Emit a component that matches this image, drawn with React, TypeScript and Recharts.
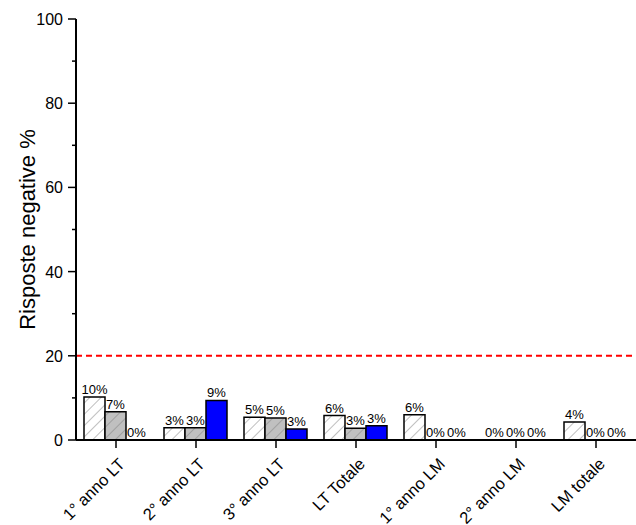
import React from "react"
import {
  BarChart,
  Bar,
  XAxis,
  YAxis,
  ReferenceLine,
  LabelList,
} from "recharts"

const categories = [
  "1° anno LT",
  "2° anno LT",
  "3° anno LT",
  "LT Totale",
  "1° anno LM",
  "2° anno LM",
  "LM totale",
]
const serieA = [10.2, 2.9, 5.4, 5.8, 6.0, 0, 4.3]
const serieB = [6.7, 2.9, 5.2, 2.8, 0, 0, 0]
const serieC = [0, 9.4, 2.6, 3.4, 0, 0, 0]
const yTicks = [0, 10, 20, 30, 40, 50, 60, 70, 80, 90, 100]
const soglia = 20

const data = categories.map((name, i) => ({
  name,
  a: serieA[i],
  b: serieB[i],
  c: serieC[i],
}))

const FONT = "Arial, 'Liberation Sans', sans-serif"

// etichetta sopra la barra, anche per i valori a zero
function BarLabel(props: any) {
  const { x, y, width, value } = props
  if (value == null) return null
  return (
    <text
      x={Number(x) + Number(width) / 2}
      y={Number(y) - 3}
      textAnchor="middle"
      fontSize={13}
      fontFamily={FONT}
      fill="#000"
    >
      {`${Math.round(Number(value))}%`}
    </text>
  )
}

function YTick(props: any) {
  const { x, y, payload } = props
  const major = payload.value % 20 === 0
  return (
    <g>
      <line x1={x - (major ? 8 : 4)} x2={x} y1={y} y2={y} stroke="#000" strokeWidth={1.5} />
      {major && (
        <text x={x - 13} y={y} dy={6} textAnchor="end" fontSize={16} fontFamily={FONT} fill="#000">
          {payload.value}
        </text>
      )}
    </g>
  )
}

function XTick(props: any) {
  const { x, y, payload } = props
  const tx = x + 10
  const ty = y + 25
  return (
    <g>
      <line x1={x} x2={x} y1={y} y2={y + 8} stroke="#000" strokeWidth={1.5} />
      <text
        x={tx}
        y={ty}
        textAnchor="end"
        fontSize={16.5}
        fontFamily={FONT}
        fill="#000"
        transform={`rotate(-45, ${tx}, ${ty})`}
      >
        {payload.value}
      </text>
    </g>
  )
}

export default function App() {
  return (
    <div style={{ background: "#fff", width: 636, height: 525 }}>
      <style>{`body{margin:0;background:#fff}`}</style>
      <BarChart
        width={636}
        height={525}
        data={data}
        margin={{ top: 19, right: 0, left: 0, bottom: 0 }}
        barCategoryGap={8}
        barGap={0}
      >
        <defs>
          <pattern id="hatchWhite" width="8" height="8" patternUnits="userSpaceOnUse" patternTransform="rotate(45)">
            <rect width="8" height="8" fill="#fff" />
            <line x1="0" y1="0" x2="0" y2="8" stroke="#808080" strokeWidth={1} />
          </pattern>
          <pattern id="hatchGray" width="8" height="8" patternUnits="userSpaceOnUse" patternTransform="rotate(45)">
            <rect width="8" height="8" fill="#c0c0c0" />
            <line x1="0" y1="0" x2="0" y2="8" stroke="#808080" strokeWidth={1} />
          </pattern>
        </defs>
        <XAxis
          dataKey="name"
          height={85}
          interval={0}
          tick={<XTick />}
          tickSize={0}
          tickMargin={0}
          tickLine={false}
          axisLine={{ stroke: "#000", strokeWidth: 2 }}
        />
        <YAxis
          width={76}
          domain={[0, 100]}
          ticks={yTicks}
          interval={0}
          tick={<YTick />}
          tickSize={0}
          tickMargin={0}
          tickLine={false}
          axisLine={{ stroke: "#000", strokeWidth: 2 }}
          label={{
            value: "Risposte negative %",
            angle: -90,
            position: "insideLeft",
            offset: 27,
            style: { textAnchor: "middle", fontSize: 22, fontFamily: FONT, fill: "#000" },
          }}
        />
        <ReferenceLine y={soglia} stroke="#ff0000" strokeWidth={2} strokeDasharray="6 4" />
        <Bar dataKey="a" fill="url(#hatchWhite)" stroke="#000" strokeWidth={1.5} minPointSize={0.01} isAnimationActive={false}>
          <LabelList dataKey="a" content={<BarLabel />} />
        </Bar>
        <Bar dataKey="b" fill="url(#hatchGray)" stroke="#000" strokeWidth={1.5} minPointSize={0.01} isAnimationActive={false}>
          <LabelList dataKey="b" content={<BarLabel />} />
        </Bar>
        <Bar dataKey="c" fill="#0000ff" stroke="#000" strokeWidth={1.5} minPointSize={0.01} isAnimationActive={false}>
          <LabelList dataKey="c" content={<BarLabel />} />
        </Bar>
      </BarChart>
    </div>
  )
}
